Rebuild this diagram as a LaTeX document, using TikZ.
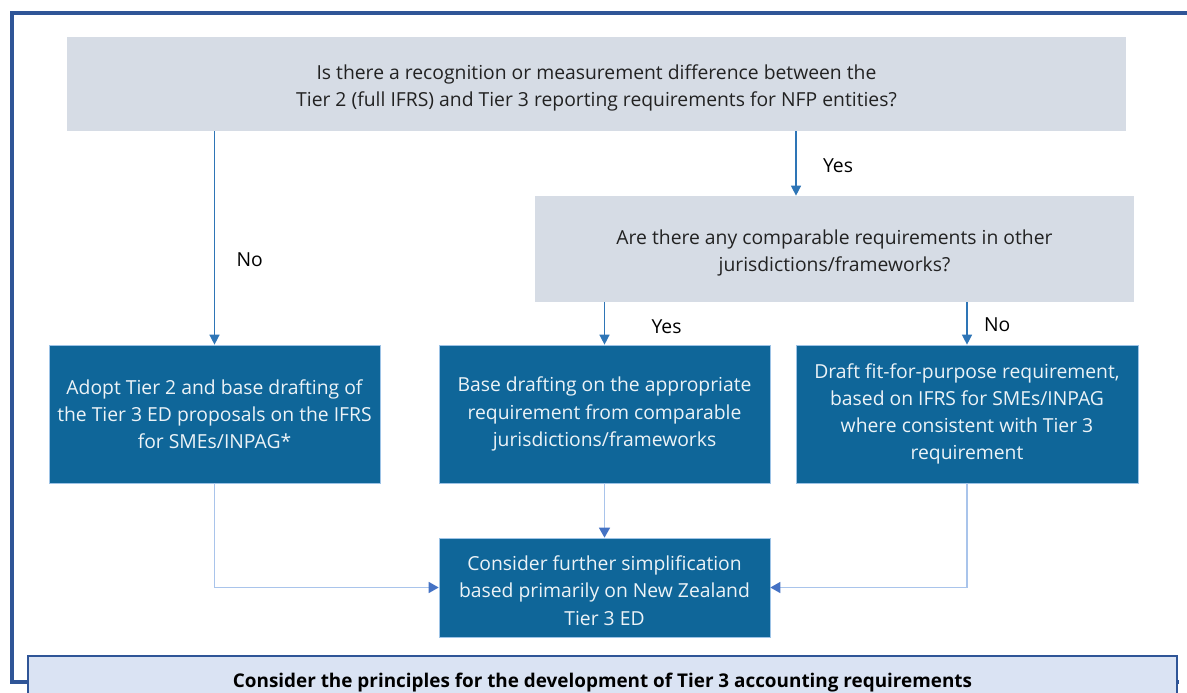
\documentclass[tikz,border=0pt]{standalone}
\usepackage{fontspec}
\setmainfont{Open Sans}
\usetikzlibrary{arrows.meta, calc}
\definecolor{qgray}{HTML}{D6DCE5}
\definecolor{stepblue}{HTML}{0F6699}
\definecolor{stepedge}{HTML}{9DC3E6}
\definecolor{flowblue}{HTML}{2E75B6}
\definecolor{mergeline}{HTML}{A9C4EB}
\definecolor{mergehead}{HTML}{4472C4}
\definecolor{framblue}{HTML}{2F5597}
\definecolor{pale}{HTML}{DAE3F3}
\definecolor{txtdark}{HTML}{222222}
\newcommand{\droptext}[1]{\rule{0pt}{#1}}

\begin{document}
\begin{tikzpicture}[
    x=0.02cm, y=-0.02cm,
    every node/.style={font=\fontsize{11}{15.5}\selectfont},
  ]

  \useasboundingbox (0,0) rectangle (1187,693);
  \clip (0,0) rectangle (1187,693);

  % --- Styles ---
  \tikzset{
    question/.style={fill=qgray, text=txtdark, align=center,
                     minimum height=1.88cm, inner sep=0pt},
    action/.style={fill=stepblue, draw=stepedge, line width=0.4pt,
                   text=white!92!stepblue, align=center,
                   minimum width=6.62cm, minimum height=2.76cm, inner sep=0pt},
    flow/.style={-{Triangle[length=2mm, width=2mm]}, flowblue, line width=0.8pt},
    merge/.style={-{Triangle[length=2mm, width=2.2mm, color=mergehead]},
                  mergeline, line width=0.8pt},
    lbl/.style={text=black},
    frame/.style={framblue, line width=2.2pt},
  }

  % --- Questions (grey) ---
  \node[question, minimum width=21.18cm] (q1) at (596.5,84)
    {\droptext{12.8pt}Is there a recognition or measurement difference between the\\
     Tier 2 (full IFRS) and Tier 3 reporting requirements for NFP entities?};
  \node[question, minimum width=11.98cm, minimum height=2.12cm] (q2) at (834.5,249)
    {\droptext{12.8pt}Are there any comparable requirements in other\\jurisdictions/frameworks?};

  % --- Outcomes (dark blue) ---
  \node[action] (adopt) at (214.5,414)
    {Adopt Tier 2 and base drafting of\\the Tier 3 ED proposals on the IFRS\\for SMEs/INPAG*};
  \node[action] (base) at (604.5,414)
    {Base drafting on the appropriate\\requirement from comparable\\jurisdictions/frameworks};
  \node[action, minimum width=6.84cm] (draft) at (967,414)
    {Draft fit-for-purpose requirement,\\based on IFRS for SMEs/INPAG\\where consistent with Tier 3\\requirement};
  \node[action, minimum height=1.98cm] (simplify) at (604.5,587.5)
    {\droptext{11.8pt}Consider further simplification\\based primarily on New Zealand\\Tier 3 ED};

  % --- Principles bar (runs off the bottom) ---
  \node[fill=pale, draw=framblue, line width=1.4pt, anchor=north,
        minimum width=22.98cm, minimum height=1.04cm,
        font=\fontsize{10.75}{13}\selectfont\bfseries] (principles) at (602.5,655)
    {Consider the principles for the development of Tier 3 accounting requirements};

  % --- Outer frame ---
  \draw[frame] (principles.west) -| (12,13) -- (1200,13);
  \draw[frame] (principles.east) -- ++(1,0);

  % --- Decision arrows ---
  \coordinate (yes1) at ([xshift=-0.77cm]q2.north);
  \draw[flow] (q1.south -| adopt.north) -- (adopt.north)
    node[lbl, pos=0.6, right=0.31cm] {No};
  \draw[flow] (q1.south -| yes1) -- (yes1)
    node[lbl, pos=0.53, right=0.41cm] {Yes};
  \draw[flow] (q2.south -| base.north) -- (base.north)
    node[lbl, pos=0.58, right=0.81cm] {Yes};
  \draw[flow] (q2.south -| draft.north) -- (draft.north)
    node[lbl, pos=0.52, right=0.21cm] {No};

  % --- Merging into the final step ---
  \draw[merge] (adopt.south) |- (simplify.west);
  \draw[merge] (base.south) -- (simplify.north);
  \draw[merge] (draft.south) |- (simplify.east);

\end{tikzpicture}
\end{document}
